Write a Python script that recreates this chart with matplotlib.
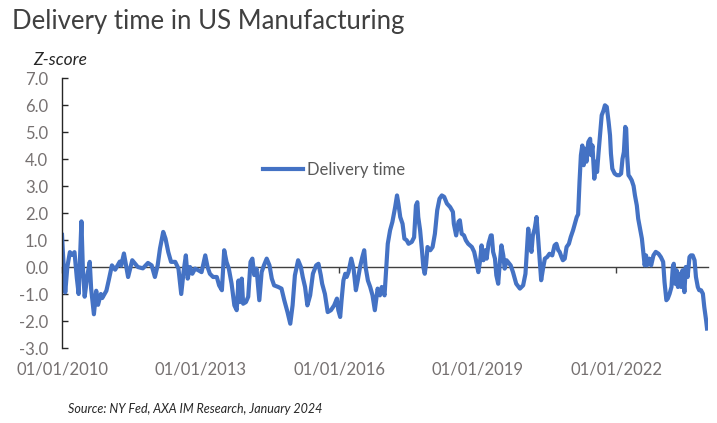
import matplotlib
matplotlib.use("Agg")
import matplotlib.pyplot as plt
import matplotlib.dates as mdates
import pandas as pd

plt.rcParams['font.family'] = ['Lato', 'DejaVu Sans']

# decimal-year positions and z-score values
years = [
    2010.00, 2010.02, 2010.07, 2010.115, 2010.17, 2010.22, 2010.27, 2010.32, 2010.36, 2010.42,
    2010.45, 2010.49, 2010.55, 2010.60, 2010.63, 2010.69, 2010.74, 2010.78, 2010.84, 2010.87,
    2010.96, 2011.01, 2011.08, 2011.15, 2011.25, 2011.28, 2011.34, 2011.43, 2011.52, 2011.64,
    2011.75, 2011.86, 2011.94, 2012.01, 2012.07, 2012.12, 2012.19, 2012.24, 2012.30, 2012.36,
    2012.45, 2012.52, 2012.58, 2012.63, 2012.68, 2012.72, 2012.77, 2012.82, 2012.88, 2012.95,
    2013.02, 2013.10, 2013.15, 2013.20, 2013.27, 2013.35, 2013.40, 2013.46, 2013.51, 2013.56,
    2013.61, 2013.67, 2013.73, 2013.78, 2013.82, 2013.85, 2013.89, 2013.92, 2013.98, 2014.03,
    2014.08, 2014.12, 2014.16, 2014.21, 2014.27, 2014.32, 2014.37, 2014.43, 2014.49, 2014.54,
    2014.59, 2014.68, 2014.75, 2014.81, 2014.88, 2014.94, 2014.99, 2015.04, 2015.11, 2015.17,
    2015.21, 2015.26, 2015.31, 2015.37, 2015.43, 2015.50, 2015.55, 2015.60, 2015.63, 2015.69,
    2015.75, 2015.82, 2015.89, 2015.95, 2015.98, 2016.02, 2016.05, 2016.09, 2016.13, 2016.16,
    2016.20, 2016.26, 2016.31, 2016.36, 2016.40, 2016.45, 2016.50, 2016.54, 2016.57, 2016.62,
    2016.67, 2016.72, 2016.77, 2016.83, 2016.88, 2016.92, 2016.98, 2017.01, 2017.05, 2017.10,
    2017.15, 2017.21, 2017.25, 2017.28, 2017.32, 2017.37, 2017.41, 2017.46, 2017.50, 2017.57,
    2017.62, 2017.66, 2017.69, 2017.71, 2017.75, 2017.79, 2017.82, 2017.85, 2017.88, 2017.91,
    2017.97, 2018.02, 2018.07, 2018.12, 2018.17, 2018.22, 2018.27, 2018.33, 2018.40, 2018.46,
    2018.48, 2018.53, 2018.58, 2018.61, 2018.65, 2018.70, 2018.74, 2018.79, 2018.87, 2018.92,
    2018.96, 2019.01, 2019.05, 2019.08, 2019.12, 2019.16, 2019.19, 2019.23, 2019.28, 2019.30,
    2019.33, 2019.37, 2019.40, 2019.44, 2019.47, 2019.51, 2019.55, 2019.58, 2019.62, 2019.65,
    2019.71, 2019.76, 2019.83, 2019.91, 2019.98, 2020.03, 2020.06, 2020.09, 2020.12, 2020.16,
    2020.19, 2020.23, 2020.27, 2020.30, 2020.34, 2020.37, 2020.41, 2020.45, 2020.50, 2020.55,
    2020.61, 2020.66, 2020.70, 2020.74, 2020.77, 2020.81, 2020.84, 2020.88, 2020.92, 2020.97,
    2021.01, 2021.06, 2021.10, 2021.14, 2021.17, 2021.20, 2021.23, 2021.26, 2021.29, 2021.32,
    2021.35, 2021.39, 2021.43, 2021.45, 2021.48, 2021.52, 2021.55, 2021.58, 2021.61, 2021.65,
    2021.68, 2021.72, 2021.75, 2021.79, 2021.83, 2021.86, 2021.88, 2021.91, 2021.96, 2022.01,
    2022.06, 2022.10, 2022.13, 2022.16, 2022.19, 2022.21, 2022.23, 2022.26, 2022.29, 2022.33,
    2022.37, 2022.40, 2022.44, 2022.47, 2022.51, 2022.55, 2022.58, 2022.61, 2022.64, 2022.66,
    2022.71, 2022.75, 2022.80, 2022.85, 2022.91, 2022.96, 2023.01, 2023.04, 2023.08, 2023.11,
    2023.15, 2023.19, 2023.22, 2023.24, 2023.27, 2023.30, 2023.33, 2023.36, 2023.40, 2023.43,
    2023.47, 2023.50, 2023.54, 2023.58, 2023.61, 2023.65, 2023.69, 2023.72, 2023.76, 2023.79,
    2023.83, 2023.87, 2023.90, 2023.94, 2023.96,
]
zscore = [
    1.19, 0.50, -0.94, 0.00, 0.55, 0.45, 0.55, -0.40, -1.00, 1.69,
    0.00, -1.10, -0.30, 0.19, -0.80, -1.75, -0.88, -1.40, -1.00, -1.15,
    -0.88, -0.50, 0.06, -0.10, 0.20, 0.05, 0.50, -0.37, 0.25, 0.00,
    -0.05, 0.15, 0.06, -0.37, 0.06, 0.68, 1.30, 1.05, 0.55, 0.19,
    0.19, -0.06, -1.00, -0.19, 0.43, -0.43, 0.00, -0.25, -0.06, -0.12,
    -0.19, 0.43, 0.00, -0.25, -0.37, -0.37, -0.68, -0.86, 0.62, 0.19,
    -0.06, -0.62, -1.42, -1.60, -0.50, -1.30, -0.43, -1.36, -1.30, -1.10,
    0.19, 0.31, -0.30, -0.06, -1.23, -0.19, 0.06, 0.31, 0.06, -0.43,
    -0.68, -0.74, -0.80, -1.23, -1.67, -2.10, -1.42, -0.31, 0.25, 0.00,
    -0.37, -0.74, -1.42, -1.05, -0.25, 0.06, 0.12, -0.30, -0.62, -1.00,
    -1.67, -1.60, -1.42, -1.17, -1.60, -1.85, -1.23, -0.50, -0.25, -0.37,
    -0.19, 0.31, -0.06, -0.86, -0.50, 0.00, 0.37, 0.62, 0.00, -0.50,
    -0.74, -1.05, -1.60, -0.80, -1.05, -0.74, -1.05, -0.25, 0.86, 1.36,
    1.67, 2.22, 2.65, 2.35, 1.85, 1.60, 1.05, 0.99, 0.86, 0.93,
    1.10, 2.28, 2.40, 1.85, 1.36, 0.62, 0.00, -0.25, 0.12, 0.74,
    0.62, 0.74, 1.23, 2.10, 2.53, 2.65, 2.60, 2.35, 2.22, 2.04,
    1.60, 1.17, 1.67, 1.73, 1.23, 1.17, 0.99, 0.86, 0.74, 0.56,
    0.25, -0.19, 0.25, 0.80, 0.25, 0.62, 0.31, 0.86, 1.17, 1.17,
    0.56, 0.31, -0.31, -0.62, 0.06, 0.80, 0.43, -0.06, 0.25, 0.19,
    0.06, -0.19, -0.62, -0.80, -0.68, -0.25, 0.56, 1.42, 0.93, 0.56,
    1.17, 1.42, 1.85, 1.17, 0.19, -0.49, -0.06, 0.31, 0.37, 0.49,
    0.43, 0.80, 0.86, 0.62, 0.56, 0.37, 0.25, 0.31, 0.74, 0.86,
    1.11, 1.36, 1.60, 1.85, 1.95, 3.15, 4.14, 4.50, 3.77, 4.38,
    3.90, 4.63, 4.75, 4.14, 4.50, 3.27, 3.90, 3.52, 4.20, 5.00,
    5.62, 5.80, 5.99, 5.93, 5.37, 4.88, 4.20, 3.64, 3.46, 3.40,
    3.40, 3.46, 4.00, 4.26, 5.19, 5.12, 4.14, 3.40, 3.33, 3.21,
    3.00, 2.65, 2.28, 1.79, 1.42, 1.05, 0.56, 0.06, 0.43, 0.06,
    0.31, 0.06, 0.43, 0.56, 0.49, 0.37, 0.19, -0.56, -1.23, -1.17,
    -0.99, -0.74, 0.00, 0.12, -0.62, -0.12, -0.74, -0.25, -0.74, -0.12,
    -0.93, 0.00, -0.37, 0.37, 0.43, 0.43, 0.25, -0.37, -0.74, -0.86,
    -0.86, -0.99, -1.48, -1.98, -2.28,
]

tick_years = [2010, 2013, 2016, 2019, 2022]
y_ticks = [-3, -2, -1, 0, 1, 2, 3, 4, 5, 6, 7]


def to_date(y):
    return pd.Timestamp('2010-01-01') + pd.to_timedelta((y - 2010) * 365.25, unit='D')


dates = [to_date(y) for y in years]
tick_dates = [pd.Timestamp(f'{y}-01-01') for y in tick_years]

fig = plt.figure(figsize=(7.17, 4.23), dpi=100)
ax = fig.add_axes([0.0865, 0.1773, 0.9009, 0.6383])

ax.plot(dates, zscore, color='#4472C4', linewidth=3.0, label='Delivery time')

ax.set_xlim(pd.Timestamp('2010-01-01'), to_date(2023.98))
ax.set_ylim(-3, 7)
ax.set_yticks(y_ticks)
ax.set_yticklabels([f'{v:.1f}' for v in y_ticks])

for s in ['top', 'right', 'bottom']:
    ax.spines[s].set_visible(False)
ax.spines['left'].set_color('#262626')
ax.spines['left'].set_linewidth(1.0)

ax.tick_params(axis='y', direction='in', length=4, width=1, color='#262626',
               labelsize=12, labelcolor='#767171', pad=10)
ax.set_xticks(tick_dates)
ax.xaxis.set_major_formatter(mdates.DateFormatter('%d/%m/%Y'))
ax.tick_params(axis='x', length=0, labelsize=12, labelcolor='#767171', pad=10)

# zero line with small ticks
sec = ax.secondary_xaxis(0.3)
sec.set_xticks(tick_dates)
sec.set_xticklabels([])
sec.spines['bottom'].set_color('#404040')
sec.spines['bottom'].set_linewidth(1.0)
sec.tick_params(axis='x', direction='out', length=4, width=1, color='#404040')

ax.legend(loc='center left', bbox_to_anchor=(0.311, 0.659), frameon=False,
          fontsize=12, handlelength=2.4, handletextpad=0.25, borderpad=0,
          borderaxespad=0, labelcolor='#595959')

fig.text(0.017, 0.948, 'Delivery time in US Manufacturing', fontsize=18.5,
         color='#404040', va='center', ha='left')
fig.text(0.046, 0.858, 'Z-score', fontsize=12.5, style='italic',
         color='#262626', va='center', ha='left')
fig.text(0.095, 0.032, 'Source: NY Fed, AXA IM Research, January 2024',
         fontsize=9, style='italic', color='#262626', va='center', ha='left')

fig.savefig('out.png', dpi=100)
